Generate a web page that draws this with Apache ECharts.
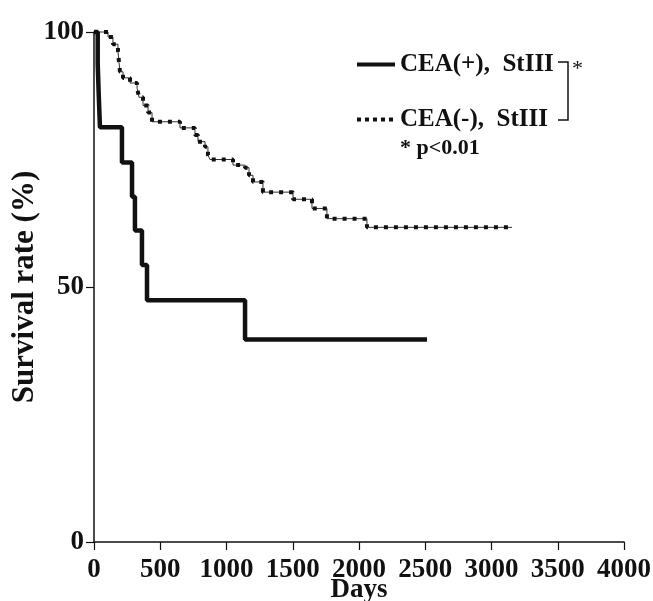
<!DOCTYPE html>
<html>
<head>
<meta charset="utf-8">
<script src="https://cdn.jsdelivr.net/npm/echarts@6/dist/echarts.min.js"></script>
<style>
  html, body { margin: 0; padding: 0; background: #fff; }
  #chart { width: 653px; height: 601px; }
</style>
</head>
<body>
<div id="chart"></div>
<script>
// Kaplan-Meier curves (days, survival %)
const seriesNames = ['CEA(+),  StIII', 'CEA(-),  StIII'];

const posDays = [0, 28, 36, 45, 211, 287, 309, 362, 400, 1140, 2513];
const posRate = [100, 93.8, 87.5, 81.3, 74.4, 67.7, 61.1, 54.3, 47.4, 39.7, 39.7];

const negDays = [0, 106, 143, 181, 189, 196, 219, 272, 325, 340, 370, 408, 438,
  649, 762, 785, 838, 860, 875, 1049, 1140, 1170, 1200, 1275, 1502, 1645, 1758, 2060, 3155];
const negRate = [100, 99.0, 97.6, 96.2, 94.0, 92.2, 91.0, 90.0, 89.0, 87.2, 85.6, 84.2, 82.4,
  81.2, 79.8, 78.5, 77.5, 75.9, 75.0, 73.9, 73.4, 71.9, 70.6, 68.6, 67.2, 65.4, 63.4, 61.7, 61.7];

const pValueText = '* p<0.01';

const FONT = 'Liberation Serif';
const INK = '#111';

const zip = (xs, ys) => xs.map((x, i) => [x, ys[i]]);

const chart = echarts.init(document.getElementById('chart'));

const option = {
  animation: false,
  backgroundColor: '#fff',
  grid: { left: 94, right: 29, top: 32, bottom: 59, outerBoundsMode: 'none', containLabel: false },
  legend: {
    data: [
      { name: seriesNames[0], lineStyle: { width: 4 } },
      { name: seriesNames[1], lineStyle: { width: 4, type: [4, 4] } }
    ],
    orient: 'vertical',
    left: 350,
    top: 47,
    itemWidth: 38,
    itemHeight: 14,
    itemGap: 30,
    itemStyle: { opacity: 0 },
    textStyle: { fontFamily: FONT, fontWeight: 'bold', fontSize: 25, color: INK }
  },
  xAxis: {
    type: 'value',
    min: 0,
    max: 4000,
    interval: 500,
    name: 'Days',
    nameLocation: 'middle',
    nameGap: 35,
    nameMoveOverlap: false,
    nameTextStyle: { fontFamily: FONT, fontWeight: 'bold', fontSize: 27, color: INK },
    axisLine: { lineStyle: { color: INK, width: 1.5 } },
    axisTick: { length: 8, lineStyle: { color: INK, width: 1.2 } },
    axisLabel: {
      margin: 15,
      fontFamily: FONT,
      fontWeight: 'bold',
      fontSize: 27,
      color: INK,
      formatter: (v) => String(v)
    },
    splitLine: { show: false }
  },
  yAxis: {
    type: 'value',
    min: 0,
    max: 100,
    interval: 50,
    name: 'Survival rate (%)',
    nameLocation: 'middle',
    nameGap: 54,
    nameMoveOverlap: false,
    nameTextStyle: { fontFamily: FONT, fontWeight: 'bold', fontSize: 31, color: INK },
    axisLine: { show: true, lineStyle: { color: INK, width: 1.5 } },
    axisTick: { show: true, length: 8, lineStyle: { color: INK, width: 1.2 } },
    axisLabel: { margin: 10, fontFamily: FONT, fontWeight: 'bold', fontSize: 27, color: INK },
    splitLine: { show: false }
  },
  series: [
    {
      name: seriesNames[0],
      type: 'line',
      step: 'end',
      symbol: 'none',
      clip: false,
      data: zip(posDays, posRate),
      lineStyle: { color: INK, width: 4.5 },
      itemStyle: { color: INK },
      z: 3
    },
    {
      name: 'neg-thin',
      type: 'line',
      step: 'end',
      symbol: 'none',
      clip: false,
      data: zip(negDays, negRate),
      lineStyle: { color: '#333', width: 1 },
      z: 2
    },
    {
      name: seriesNames[1],
      type: 'line',
      step: 'end',
      symbol: 'none',
      clip: false,
      data: zip(negDays, negRate),
      lineStyle: { color: INK, width: 4, type: [4, 6] },
      itemStyle: { color: INK },
      z: 2
    }
  ],
  graphic: [
    {
      type: 'polyline',
      shape: { points: [[558, 62], [568, 62], [568, 120], [558, 120]] },
      style: { stroke: INK, lineWidth: 1.5, fill: null }
    },
    {
      type: 'text',
      left: 572,
      top: 58,
      style: { text: '*', font: '22px "' + FONT + '"', fill: INK }
    },
    {
      type: 'text',
      left: 400,
      top: 137,
      style: { text: pValueText, font: 'bold 22px "' + FONT + '"', fill: INK }
    }
  ]
};

chart.setOption(option);
window.addEventListener('resize', chart.resize);
</script>
</body>
</html>
